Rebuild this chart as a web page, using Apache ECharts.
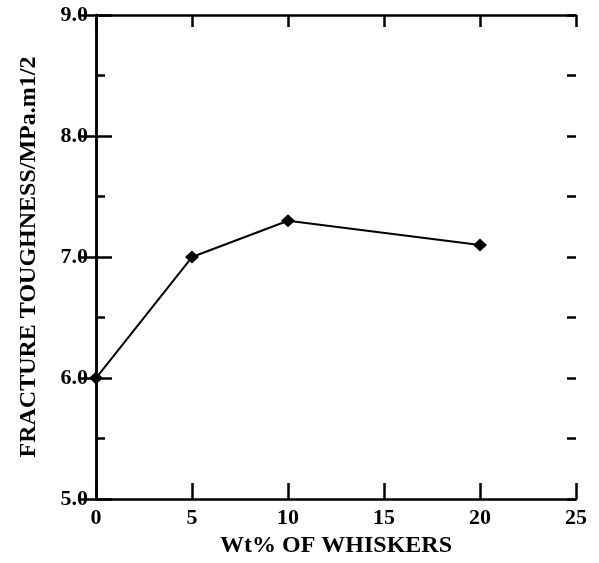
<!DOCTYPE html>
<html>
<head>
<meta charset="utf-8">
<script src="https://cdn.jsdelivr.net/npm/echarts@6/dist/echarts.min.js"></script>
<style>
  html, body { margin: 0; padding: 0; background: #fff; }
  #main { width: 599px; height: 563px; }
</style>
</head>
<body>
<div id="main"></div>
<script>
// data
var whiskerWt = [0, 5, 10, 20]
var toughness = [6.0, 7.0, 7.3, 7.1]
var xTicks = [0, 5, 10, 15, 20, 25]
var yTicks = ['5.0', '6.0', '7.0', '8.0', '9.0']

var font = 'Liberation Serif'
var chart = echarts.init(document.getElementById('main'))

var axisLine = { lineStyle: { color: '#000', width: 2.5 } }
var tick = { show: true, inside: true, length: 16, lineStyle: { color: '#000', width: 2.5 } }
var topTick = { show: true, inside: true, length: 12, lineStyle: { color: '#000', width: 2.5 } }
var halfTick = { show: true, inside: true, length: 9, lineStyle: { color: '#000', width: 2.5 } }
var labelStyle = { fontFamily: font, fontWeight: 'bold', fontSize: 22, color: '#000' }
var nameStyle = { fontFamily: font, fontWeight: 'bold', fontSize: 24, color: '#000' }

// plain frame axis (no labels), used for top/right sides and the half-step ticks
function frameAxis (opts) {
    return Object.assign({
        type: 'value',
        axisLine: axisLine,
        axisTick: tick,
        axisLabel: { show: false },
        splitLine: { show: false }
    }, opts)
}

chart.setOption({
    animation: false,
    backgroundColor: '#fff',
    grid: { left: 96, right: 23, top: 15, bottom: 60 },
    xAxis: [
        {
            type: 'value',
            min: xTicks[0],
            max: xTicks[xTicks.length - 1],
            interval: 5,
            name: 'Wt% OF WHISKERS',
            nameLocation: 'middle',
            nameGap: 26,
            nameTextStyle: nameStyle,
            axisLine: axisLine,
            axisTick: tick,
            axisLabel: Object.assign({ margin: 8 }, labelStyle),
            splitLine: { show: false }
        },
        frameAxis({ position: 'top', min: 0, max: 25, interval: 5, axisTick: topTick })
    ],
    yAxis: [
        {
            type: 'value',
            min: 5,
            max: 9,
            interval: 1,
            name: 'FRACTURE TOUGHNESS/MPa.m1/2',
            nameLocation: 'middle',
            nameGap: 55,
            nameTextStyle: nameStyle,
            axisLine: axisLine,
            axisTick: tick,
            axisLabel: Object.assign({
                margin: 8,
                formatter: function (v) { return yTicks[Math.round(v - 5)] }
            }, labelStyle),
            splitLine: { show: false }
        },
        frameAxis({ position: 'right', min: 5, max: 9, interval: 1 }),
        frameAxis({ position: 'left', min: 5, max: 9, interval: 0.5, axisLine: { show: false }, axisTick: halfTick }),
        frameAxis({ position: 'right', min: 5, max: 9, interval: 0.5, axisLine: { show: false }, axisTick: halfTick })
    ],
    series: [
        {
            type: 'line',
            data: whiskerWt.map(function (x, i) { return [x, toughness[i]] }),
            symbol: 'diamond',
            symbolSize: [14, 13],
            lineStyle: { color: '#000', width: 2 },
            itemStyle: { color: '#000' }
        }
    ]
})
</script>
</body>
</html>
